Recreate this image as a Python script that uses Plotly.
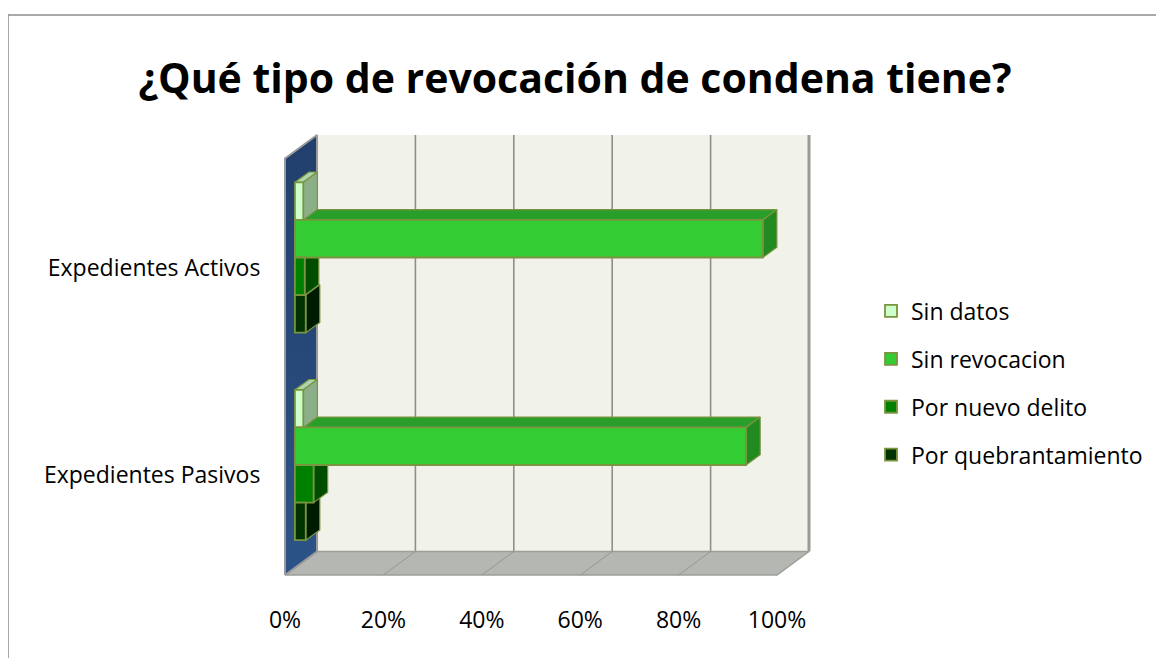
import plotly.graph_objects as go

# ---------------- data ----------------
categories = ["Expedientes Activos", "Expedientes Pasivos"]
category_pos = [1, 0]
series_names = ["Sin datos", "Sin revocacion", "Por nuevo delito", "Por quebrantamiento"]
activos_values = [1.7, 95.1, 2.0, 2.2]
pasivos_values = [1.7, 91.7, 3.8, 2.2]
x_tick_values = [0, 20, 40, 60, 80, 100]
x_tick_labels = ["0%", "20%", "40%", "60%", "80%", "100%"]

# ---------------- styles ----------------
front_colors = ["#CCFFCC", "#33CC33", "#008000", "#003300"]
top_colors = ["#AED6AC", "#2A9E2A", "#006600", "#002900"]
side_colors = ["#8CAE89", "#218A21", "#004D00", "#001C00"]
OUTLINE = "#7A9440"
FONT = "Open Sans"

# ---------------- layout geometry (screen pixels) ----------------
SCREEN_W, SCREEN_H = 1164, 658
OFF = 8                                   # default page margin around the figure
FW, FH = SCREEN_W - OFF, SCREEN_H - OFF
PLOT_L, PLOT_R, PLOT_T, PLOT_B = 270, 835, 125, 582
X0_PX, KX = 285.0, 4.92                   # front 0% position, px per %
Y1_PX, KY = 264.8, 207.5                  # front-plane position of category 1, px per unit


def y_of(px):
    return 1 + (Y1_PX - px) / KY


x_range = [(PLOT_L - X0_PX) / KX, (PLOT_R - X0_PX) / KX]
y_range = [y_of(PLOT_B), y_of(PLOT_T)]

DX, DY = 32 / KX, 23.5 / KY               # full depth offset in data units
XMAX = 100
YF, YT = y_of(575), y_of(158.5)           # floor level / wall top (front plane)
D0, D1 = 0.31, 0.75                       # bar depth span
BW = 37.6 / KY                            # bar thickness


def px_paper(px, py):
    return ((px - PLOT_L) / (PLOT_R - PLOT_L), (PLOT_B - py) / (PLOT_B - PLOT_T))


def poly(xs, ys, fill, line_color=None, lw=0):
    return go.Scatter(
        x=list(xs) + [xs[0]], y=list(ys) + [ys[0]], mode="lines", fill="toself",
        fillcolor=fill, line=dict(color=line_color or fill, width=lw),
        hoverinfo="skip", showlegend=False)


def line(xs, ys, color, width):
    return go.Scatter(x=xs, y=ys, mode="lines", line=dict(color=color, width=width),
                      hoverinfo="skip", showlegend=False)


fig = go.Figure()

# back wall
fig.add_trace(poly([DX, XMAX + DX, XMAX + DX, DX],
                   [YF + DY, YF + DY, YT + DY, YT + DY], "#F1F3EA"))
for v in x_tick_values[1:-1]:
    fig.add_trace(line([v + DX, v + DX], [YF + DY, YT + DY], "#8E8E8E", 1.6))
fig.add_trace(line([XMAX + DX, XMAX + DX], [YF + DY, YT + DY], "#9A9A9A", 3))

# floor
fig.add_trace(poly([0, XMAX, XMAX + DX, DX], [YF, YF, YF + DY, YF + DY],
                   "#B5B7B2", "#9C9E99", 1.5))
for v in x_tick_values[1:-1]:
    fig.add_trace(line([v, v + DX], [YF, YF + DY], "#959792", 1))

# left wall
fig.add_trace(go.Scatter(
    x=[0, DX, DX, 0, 0], y=[YF, YF + DY, YT + DY, YT, YF], mode="lines", fill="toself",
    fillgradient=dict(type="vertical", colorscale=[[0, "#2C5388"], [1, "#213F6C"]]),
    line=dict(color="#9A9A9A", width=2), hoverinfo="skip", showlegend=False))

# 3D faces (top and side) of the bars, drawn bottom-up
all_values = [activos_values, pasivos_values]
bar_y = {}
base = D0 * DX
t = D1 - D0
for ci, cpos in enumerate(category_pos):
    vals = all_values[ci]
    for si in reversed(range(len(series_names))):
        v = vals[si]
        yc = cpos + D0 * DY + (1.5 - si) * BW
        bar_y[(ci, si)] = yc
        yt = yc + BW / 2
        yb = yc - BW / 2
        fig.add_trace(poly([base, base + v, base + v + t * DX, base + t * DX],
                           [yt, yt, yt + t * DY, yt + t * DY],
                           top_colors[si], OUTLINE, 1.2))
        fig.add_trace(poly([base + v, base + v, base + v + t * DX, base + v + t * DX],
                           [yb, yt, yt + t * DY, yb + t * DY],
                           side_colors[si], OUTLINE, 1.2))

# front faces as bars on an overlaying subplot (drawn above the faces)
for si, name in enumerate(series_names):
    fig.add_trace(go.Bar(
        name=name, orientation="h",
        y=[bar_y[(ci, si)] for ci in range(len(categories))],
        x=[all_values[ci][si] for ci in range(len(categories))],
        base=base, width=BW,
        marker=dict(color=front_colors[si], line=dict(color=OUTLINE, width=1.8)),
        xaxis="x2", yaxis="y2", legendgroup=name, legendrank=si + 1,
        hovertemplate=name + ": %{x:.1f}%<extra></extra>"))

# outer frame
fx0, fy0 = px_paper(8, 15)
fx1, fy1 = px_paper(SCREEN_W, SCREEN_H)
shapes = [
    dict(type="line", xref="paper", yref="paper", x0=fx0, y0=fy0, x1=fx1, y1=fy0,
         line=dict(color="#8C8C8C", width=1.5)),
    dict(type="line", xref="paper", yref="paper", x0=fx0, y0=fy0, x1=fx0, y1=fy1,
         line=dict(color="#8C8C8C", width=1.5)),
]

lx, ly = px_paper(871, 383)

fig.update_layout(
    width=FW, height=FH, autosize=False,
    margin=dict(l=PLOT_L - OFF, r=SCREEN_W - PLOT_R, t=PLOT_T - OFF, b=SCREEN_H - PLOT_B),
    paper_bgcolor="white", plot_bgcolor="rgba(0,0,0,0)",
    barmode="overlay",
    font=dict(family=FONT, size=23, color="black"),
    title=dict(text="¿Qué tipo de revocación de condena tiene?",
               x=(575 - OFF) / FW, xref="container", xanchor="center",
               y=1 - (79 - OFF) / FH, yref="container", yanchor="middle",
               font=dict(family=FONT, size=41, color="black", weight="bold")),
    xaxis=dict(range=x_range, tickvals=x_tick_values, ticktext=x_tick_labels,
               ticks="outside", ticklen=17, tickcolor="rgba(0,0,0,0)",
               showgrid=False, zeroline=False, showline=False, fixedrange=True),
    yaxis=dict(range=y_range,
               tickvals=[category_pos[0] - 3.2 / KY, category_pos[1] - 2.7 / KY],
               ticktext=categories, ticks="outside", ticklen=4,
               tickcolor="rgba(0,0,0,0)",
               showgrid=False, zeroline=False, showline=False, fixedrange=True),
    xaxis2=dict(range=x_range, overlaying="x", visible=False, fixedrange=True),
    yaxis2=dict(range=y_range, overlaying="y", visible=False, fixedrange=True),
    legend=dict(x=lx, y=ly, xanchor="left", yanchor="middle",
                font=dict(family=FONT, size=23, color="black"),
                tracegroupgap=15, bgcolor="rgba(0,0,0,0)", traceorder="grouped"),
    shapes=shapes,
)

fig.write_html("out.html")
